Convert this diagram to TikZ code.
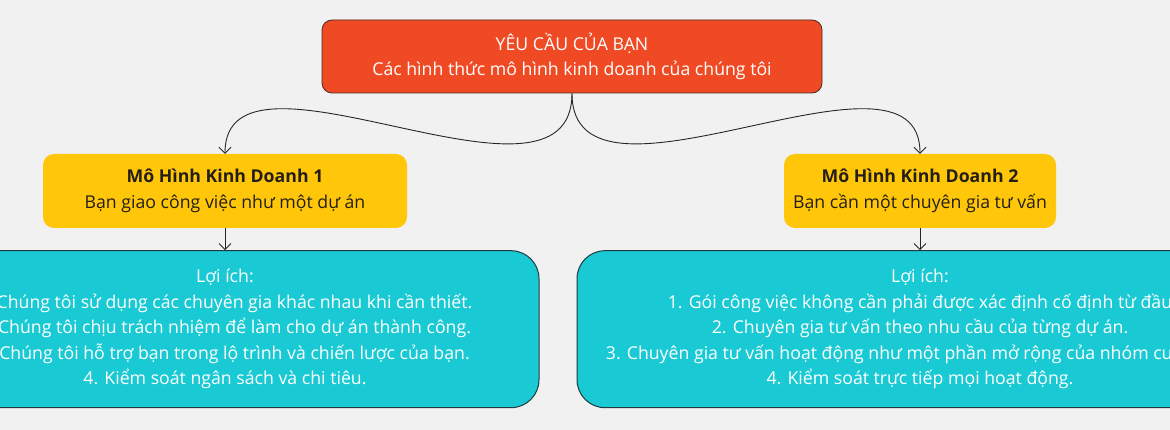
\documentclass[tikz,border=0pt]{standalone}
\usepackage{fontspec}
\setmainfont{Open Sans}
\usetikzlibrary{shapes}
\usetikzlibrary{arrows.meta}
\usetikzlibrary{positioning}
\definecolor{bgcolor}{HTML}{F1F1F1}
\definecolor{reqred}{HTML}{F04A24}
\definecolor{reqline}{HTML}{4A2A22}
\definecolor{modelyellow}{HTML}{FFC60A}
\definecolor{benefitteal}{HTML}{19CAD4}
\definecolor{boxline}{HTML}{1F3B40}
\definecolor{textdark}{HTML}{231F17}
\definecolor{linkgray}{HTML}{262626}

\begin{document}
\begin{tikzpicture}[x=1pt,y=1pt]
	\tikzstyle{every node}=[font=\fontsize{17.7}{25.5}\selectfont,align=center,inner sep=0pt]
	\tikzstyle{req}=[rectangle,rounded corners=10pt,draw=reqline,line width=0.8pt,fill=reqred,text=white,minimum width=500pt,minimum height=73pt]
	\tikzstyle{model}=[rectangle,rounded corners=11pt,fill=modelyellow,text=textdark,minimum height=74pt]
	\tikzstyle{benefit}=[rectangle,rounded corners=28pt,draw=boxline,line width=1pt,fill=benefitteal,text=white,minimum height=157pt]
	\tikzstyle{link}=[draw=linkgray,line width=0.9pt,-{Straight Barb[length=6pt,width=12pt]}]
	
	\useasboundingbox (0,0) rectangle (1170,-430);
	\clip (0,0) rectangle (1170,-430);
	\fill[bgcolor] (0,0) rectangle (1170,-430);
	
	\node[req](req) at (572,-56.5){YÊU CẦU CỦA BẠN\\Các hình thức mô hình kinh doanh của chúng tôi};
	\node[model,minimum width=364pt](m1) at (225,-191){\textbf{Mô Hình Kinh Doanh 1}\\Bạn giao công việc như một dự án};
	\node[model,minimum width=272pt](m2) at (920,-191){\textbf{Mô Hình Kinh Doanh 2}\\Bạn cần một chuyên gia tư vấn};
	\node[benefit,minimum width=628pt,below=22pt of m1](li1){Lợi ích:\\
		\hspace*{19pt}Chúng tôi sử dụng các chuyên gia khác nhau khi cần thiết.\\
		\hspace*{19pt}Chúng tôi chịu trách nhiệm để làm cho dự án thành công.\\
		\hspace*{19pt}Chúng tôi hỗ trợ bạn trong lộ trình và chiến lược của bạn.\\
		4. Kiểm soát ngân sách và chi tiêu.};
	\node[benefit,minimum width=686pt,below=22pt of m2](li2){Lợi ích:\\
		1. Gói công việc không cần phải được xác định cố định từ đầu\\
		2. Chuyên gia tư vấn theo nhu cầu của từng dự án.\\
		3. Chuyên gia tư vấn hoạt động như một phần mở rộng của nhóm cu\phantom{ủa bạn.}\\
		4. Kiểm soát trực tiếp mọi hoạt động.};
	
	\draw[link] (req.south) .. controls +(0,-140) and +(0,130) .. (m1.north);
	\draw[link] (req.south) .. controls +(0,-140) and +(0,130) .. (m2.north);
	\draw[link] (m1) -- (li1);
	\draw[link] (m2) -- (li2);
\end{tikzpicture}
\end{document}
